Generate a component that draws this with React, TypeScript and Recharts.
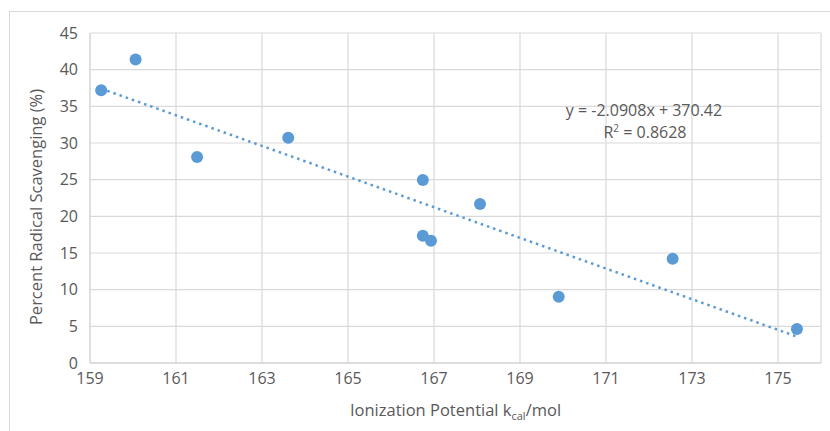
import {
  CartesianGrid,
  Customized,
  Scatter,
  ScatterChart,
  XAxis,
  YAxis,
} from 'recharts';

// ionization potential (kcal/mol) vs percent radical scavenging
const ionization = [159.26, 160.06, 161.49, 163.61, 166.74, 166.74, 166.93, 168.07, 169.9, 172.55, 175.44];
const scavenging = [37.2, 41.4, 28.1, 30.7, 24.95, 17.36, 16.68, 21.68, 9.05, 14.2, 4.64];

// trendline endpoints, as drawn (first to last data x)
const trendX = [159.26, 175.44];
const trendY = [37.42, 3.6];

const xTicks = [159, 161, 163, 165, 167, 169, 171, 173, 175];
const yTicks = [0, 5, 10, 15, 20, 25, 30, 35, 40, 45];

const equation = 'y = -2.0908x + 370.42';
const rSquared = '0.8628';

const FONT = '"Open Sans", sans-serif';
const INK = '#595959';
const GRID = '#D9D9D9';
const BLUE = '#5B9BD5';

const points = ionization.map((x, i) => ({ x, y: scavenging[i] }));
const trend = trendX.map((x, i) => ({ x, y: trendY[i] }));

function XTitle({ viewBox }: { viewBox?: { x: number; y: number; width: number; height: number } }) {
  if (!viewBox) return null;
  const cx = viewBox.x + viewBox.width / 2;
  return (
    <text x={cx} y={viewBox.y + 53} textAnchor="middle" fontFamily={FONT} fontSize={16.5} fill={INK}>
      Ionization Potential k
      <tspan fontSize={11} dy={4}>cal</tspan>
      <tspan dy={-4}>/mol</tspan>
    </text>
  );
}

function YTitle() {
  const cy = 207;
  return (
    <text
      x={35}
      y={cy}
      transform={`rotate(-90 35 ${cy})`}
      textAnchor="middle"
      dominantBaseline="central"
      fontFamily={FONT}
      fontSize={16.5}
      fill={INK}
    >
      Percent Radical Scavenging (%)
    </text>
  );
}

function EquationLabel() {
  return (
    <g fontFamily={FONT} fontSize={16} fill={INK} textAnchor="middle">
      <text x={644} y={115.5}>{equation}</text>
      <text x={645} y={137.5}>
        R<tspan fontSize={10} dy={-6}>2</tspan>
        <tspan dy={6}> = {rSquared}</tspan>
      </text>
    </g>
  );
}

function Dot(props: { cx?: number; cy?: number }) {
  if (props.cx == null || props.cy == null) return null;
  return <circle cx={props.cx} cy={props.cy} r={6} fill={BLUE} />;
}

export default function App() {
  return (
    <div style={{ position: 'absolute', left: 0, top: 0, width: 830, height: 431, background: '#fff', overflow: 'hidden' }}>
      <div
        style={{
          position: 'absolute',
          left: 9,
          top: 11,
          width: 830,
          height: 431,
          borderTop: `1.5px solid ${GRID}`,
          borderLeft: `1.5px solid ${GRID}`,
        }}
      />
      <ScatterChart width={830} height={431} margin={{ top: 33, right: 9, bottom: 0, left: 0 }}>
        <CartesianGrid stroke={GRID} strokeWidth={1.2} />
        <XAxis
          type="number"
          dataKey="x"
          domain={[159, 176]}
          ticks={xTicks}
          interval={0}
          height={68}
          tickLine={false}
          axisLine={{ stroke: GRID, strokeWidth: 1.5 }}
          tick={{ fontSize: 16, fill: INK, fontFamily: FONT }}
          tickMargin={4}
          label={<XTitle />}
        />
        <YAxis
          type="number"
          dataKey="y"
          domain={[0, 45]}
          ticks={yTicks}
          interval={0}
          width={90}
          tickLine={false}
          axisLine={{ stroke: GRID, strokeWidth: 1.2 }}
          tick={{ fontSize: 16, fill: INK, fontFamily: FONT }}
          tickMargin={6}
          label={<YTitle />}
        />
        <Scatter
          data={trend}
          line={{ stroke: BLUE, strokeWidth: 2.5, strokeDasharray: '2.5 4' }}
          shape={() => null}
          isAnimationActive={false}
        />
        <Scatter data={points} fill={BLUE} shape={<Dot />} isAnimationActive={false} />
        <Customized component={<EquationLabel />} />
      </ScatterChart>
    </div>
  );
}
